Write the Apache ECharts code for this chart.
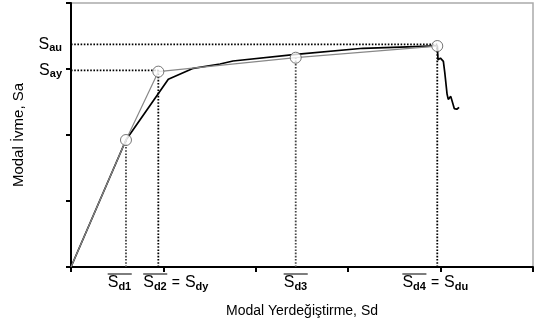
<!DOCTYPE html>
<html>
<head>
<meta charset="utf-8">
<script src="https://cdn.jsdelivr.net/npm/echarts@6/dist/echarts.min.js"></script>
<style>
    html, body { margin: 0; padding: 0; background: #fff; }
    #chart { width: 535px; height: 325px; }
</style>
</head>
<body>
<div id="chart"></div>
<script>
    // kapasite egrisi (siyah)
    const capX = [0, 0.595, 1.053, 1.324, 1.613, 1.753, 2.435, 3.16, 3.964, 3.972, 3.998, 4.03, 4.045, 4.07, 4.083, 4.11, 4.13, 4.148, 4.175, 4.2];
    const capY = [0, 1.924, 2.844, 3.01, 3.076, 3.121, 3.223, 3.314, 3.35, 3.14, 3.165, 3.115, 2.95, 2.62, 2.54, 2.585, 2.56, 2.4, 2.39, 2.42];

    // Sd1..Sd4 noktalari (gri cok dogrulu yaklasim)
    const sdX = [0.595, 0.945, 2.432, 3.964];
    const saY = [1.924, 2.96, 3.171, 3.348];

    // Say ve Sau seviyeleri
    const sAy = 2.98;
    const sAu = 3.374;

    const font = 'Liberation Sans';

    const chart = echarts.init(document.getElementById('chart'));

    const approx = [[0, 0]];
    for (let i = 0; i < sdX.length; i++) {
        approx.push([sdX[i], saY[i]]);
    }
    const capacity = capX.map((x, i) => [x, capY[i]]);

    // kesikli yardimci cizgiler
    const guides = [
        { data: [[0, sAu], [sdX[3], sAu]], color: '#000' },
        { data: [[0, sAy], [sdX[1], sAy]], color: '#000' },
        { data: [[sdX[0], 0], [sdX[0], saY[0]]], color: '#444' },
        { data: [[sdX[1], 0], [sdX[1], sAy]], color: '#000' },
        { data: [[sdX[2], 0], [sdX[2], saY[2]]], color: '#444' },
        { data: [[sdX[3], 0], [sdX[3], saY[3]]], color: '#000' }
    ];

    const xRich = {
        ol: { width: 24, height: 0, borderWidth: 0.6, borderColor: '#000', align: 'left' },
        s: { fontFamily: font, fontSize: 16, lineHeight: 18, color: '#000', verticalAlign: 'middle', align: 'left' },
        d: { fontFamily: font, fontSize: 11, fontWeight: 'bold', lineHeight: 11, color: '#000', verticalAlign: 'bottom', align: 'left' },
        eq: { fontFamily: font, fontSize: 14, lineHeight: 18, color: '#000', padding: [0, 5], verticalAlign: 'middle', align: 'left' },
        p13: { width: 13, height: 0, align: 'left' },
        p35: { width: 35, height: 0, align: 'left' },
        p4: { width: 4, height: 0, align: 'left' }
    };

    function sdLabel(value) {
        let idx = sdX.findIndex(v => Math.abs(v - value) < 1e-6);
        switch (idx) {
            case 0:
                return '{ol|}\n{s|S}{d|d1}{p13|}';
            case 1:
                return '{p35|}{ol|}\n{p35|}{s|S}{d|d2}{eq|=}{s|S}{d|dy}';
            case 2:
                return '{ol|}\n{s|S}{d|d3}';
            case 3:
                return '{ol|}\n{s|S}{d|d4}{eq|=}{s|S}{d|du}{p4|}';
            default:
                return '';
        }
    }

    let series = guides.map(g => ({
        type: 'line',
        data: g.data,
        symbol: 'none',
        silent: true,
        lineStyle: { color: g.color, width: 1.8, type: [1.6, 1.6] },
        z: 2
    }));

    series.push({
        type: 'line',
        data: capacity,
        symbol: 'none',
        lineStyle: { color: '#000', width: 1.7 },
        z: 3
    });
    series.push({
        type: 'line',
        data: approx,
        symbol: 'none',
        lineStyle: { color: '#888', width: 1.2 },
        z: 4
    });
    series.push({
        type: 'scatter',
        data: sdX.map((x, i) => [x, saY[i]]),
        symbol: 'circle',
        symbolSize: 11,
        itemStyle: { color: '#fff', borderColor: '#555', borderWidth: 1 },
        z: 5
    });

    const option = {
        animation: false,
        backgroundColor: '#fff',
        grid: {
            left: 71,
            right: 2,
            top: 3,
            bottom: 58,
            show: true,
            borderColor: '#aaa',
            borderWidth: 1.5,
            backgroundColor: 'transparent',
            outerBoundsMode: 'none'
        },
        xAxis: [
            {
                type: 'value',
                min: 0,
                max: 5,
                interval: 1,
                name: 'Modal Yerdeğiştirme, Sd',
                nameLocation: 'middle',
                nameGap: 37,
                nameMoveOverlap: false,
                nameTextStyle: { fontFamily: font, fontSize: 14, color: '#000' },
                axisLine: { show: true, onZero: false, lineStyle: { color: '#000', width: 2 } },
                axisTick: { show: true, length: 5, lineStyle: { color: '#000', width: 2 } },
                axisLabel: {
                    customValues: [sdX[0], sdX[2], sdX[3]],
                    margin: 7,
                    hideOverlap: false,
                    formatter: sdLabel,
                    rich: xRich
                },
                splitLine: { show: false }
            },
            {
                // yalnizca Sd2 = Sdy etiketi icin
                type: 'value',
                position: 'bottom',
                offset: 0,
                min: 0,
                max: 5,
                interval: 1,
                axisLine: { show: false },
                axisTick: { show: false },
                axisLabel: {
                    customValues: [sdX[1]],
                    margin: 7,
                    hideOverlap: false,
                    formatter: sdLabel,
                    rich: xRich
                },
                splitLine: { show: false }
            }
        ],
        yAxis: {
            type: 'value',
            min: 0,
            max: 4,
            interval: 1,
            name: 'Modal İvme, Sa',
            nameLocation: 'middle',
            nameGap: 45,
            nameMoveOverlap: false,
            nameTextStyle: { fontFamily: font, fontSize: 15, color: '#000' },
            axisLine: { show: true, onZero: false, lineStyle: { color: '#000', width: 2 } },
            axisTick: { show: true, length: 5, lineStyle: { color: '#000', width: 2 } },
            axisLabel: {
                customValues: [sAy, sAu],
                margin: 9,
                hideOverlap: false,
                formatter: function (value) {
                    return Math.abs(value - sAu) < 1e-6 ? '{s|S}{d|au}' : '{s|S}{d|ay}';
                },
                rich: {
                    s: { fontFamily: font, fontSize: 16, lineHeight: 18, color: '#000', verticalAlign: 'middle' },
                    d: { fontFamily: font, fontSize: 11, fontWeight: 'bold', lineHeight: 11, color: '#000', verticalAlign: 'bottom' }
                }
            },
            splitLine: { show: false }
        },
        series: series
    };

    chart.setOption(option);
</script>
</body>
</html>
